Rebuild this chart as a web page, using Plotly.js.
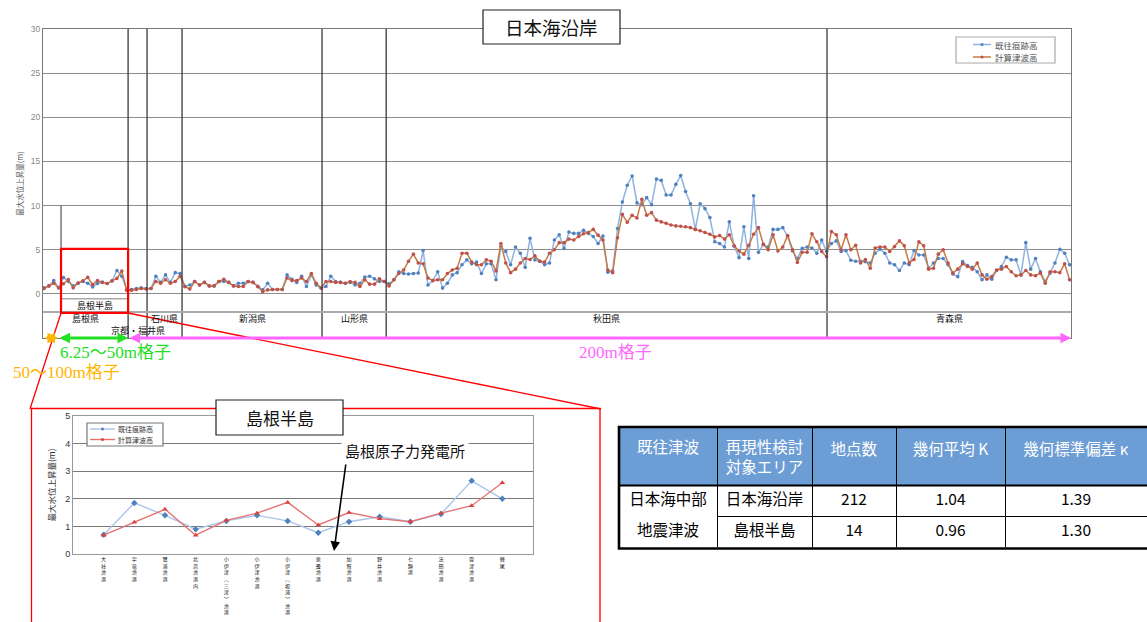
<!DOCTYPE html>
<html>
<head>
<meta charset="utf-8">
<script src="https://cdn.plot.ly/plotly-3.0.1.min.js"></script>
<style>html,body{margin:0;padding:0;background:#fff;}#chart{width:1147px;height:622px;}</style>
</head>
<body>
<div id="chart"></div>
<script>
// ---------------- DATA ----------------
// 日本海沿岸 (212 points): 既往痕跡高 (observed) and 計算津波高 (computed), metres
const obsCoast = [
  0.7, 0.9, 1.5,
  0.7, 1.85, 1.4, 0.9, 1.2, 1.4, 1.2, 0.77, 1.17, 1.35, 1.17, 1.45, 2.65, 2.0,
  0.5, 0.5, 0.6, 0.7, 0.6, 0.6,
  2.0, 1.3, 2.15, 1.3, 2.4, 2.3,
  0.85, 1.0, 1.4, 1.0, 1.3, 0.9, 0.9, 1.4,
  1.4, 1.3, 0.9, 1.2, 1.2, 1.4, 1.3, 0.85,
  0.45, 1.2, 0.5, 0.5, 0.5, 2.15, 1.65,
  1.3, 2.0, 0.83, 2.15, 1.0, 0.65, 0.83, 2.0,
  1.4, 1.3, 1.2, 1.3, 1.0, 1.2, 1.9, 2.0, 1.7, 1.4,
  1.4, 1.15, 1.6, 2.5, 2.3, 2.25, 2.3, 2.35, 4.9, 1.0,
  1.5, 2.5, 0.65, 1.2, 2.15, 2.4, 3.3, 3.85, 3.4, 3.6,
  2.3, 3.4, 3.4, 1.6, 5.4, 4.8, 3.3, 5.3, 4.6, 3.0,
  6.3, 3.85, 3.7, 3.3, 3.5,
  6.1, 6.7, 5.15, 7.0, 6.85, 6.85, 7.2, 6.85, 6.5, 5.7, 6.55,
  2.45, 2.6, 7.4, 10.4, 12.3, 13.35, 10.3, 10.1, 10.9, 10.1,
  13.0, 12.85, 11.2, 11.2, 12.4, 13.4, 11.6, 10.2, 7.3, 10.2,
  9.65, 8.65, 5.9, 5.7, 5.3, 8.15, 5.4, 4.1, 7.6, 4.0,
  11.1, 4.7, 5.6, 5.3, 7.3, 7.3, 7.5, 6.5, 4.85, 4.0, 5.15,
  5.3, 5.2, 4.6, 6.1, 4.8, 5.7, 6.0, 4.8, 4.9, 3.8,
  3.7, 3.7, 3.65, 3.5, 4.6, 5.05, 4.6, 3.5, 3.3, 2.65,
  3.5, 3.3, 4.9, 4.4, 4.4, 2.9, 3.5, 4.0, 4.0, 3.3,
  2.25, 1.95, 3.65, 3.2, 3.0, 2.5, 1.6, 2.15, 1.65, 2.65,
  3.1, 4.15, 3.85, 3.85, 2.15, 5.8, 2.8, 4.0, 2.5, 1.4,
  2.35, 3.5, 5.05, 4.6, 3.3
];
const calcCoast = [
  0.6, 0.9, 1.2,
  0.68, 1.15, 1.62, 0.68, 1.22, 1.48, 1.87, 1.05, 1.5, 1.28, 1.17, 1.48, 1.75, 2.58,
  0.4, 0.4, 0.5, 0.6, 0.55, 0.6,
  1.4, 1.2, 1.6, 1.2, 1.4, 2.0,
  0.8, 0.55, 1.4, 1.0, 1.3, 0.9, 0.9, 1.4,
  1.65, 1.3, 0.9, 0.83, 0.83, 1.4, 1.3, 0.8,
  0.25, 0.45, 0.5, 0.5, 0.5, 1.8, 1.5,
  1.5, 1.8, 1.4, 2.3, 1.2, 0.65, 1.4, 1.4,
  1.3, 1.3, 1.2, 1.4, 1.3, 0.83, 1.6, 1.1, 1.1, 1.7,
  1.4, 0.9, 1.6, 2.3, 2.7, 3.7, 4.5, 3.5, 3.4, 1.8,
  1.5, 1.6, 1.6, 2.3, 2.7, 2.9, 4.6, 4.6, 3.6, 3.3,
  3.3, 3.85, 3.7, 2.6, 5.7, 3.5, 2.4, 2.8, 3.5, 4.0,
  3.9, 4.3, 3.7, 3.6, 4.6,
  5.0, 5.8, 5.8, 6.2, 6.1, 6.5, 6.8, 6.95, 7.3, 6.65, 6.1,
  2.7, 2.4, 6.35, 9.0, 8.1, 8.9, 8.6, 10.7, 8.9, 9.2,
  8.35, 8.15, 8.0, 7.8, 7.7, 7.65, 7.6, 7.5, 7.3, 7.15,
  6.95, 6.75, 6.45, 6.6, 6.2, 6.7, 5.45, 4.85, 4.5, 5.5,
  6.75, 7.5, 5.6, 5.0, 6.7, 4.85, 5.3, 6.6, 5.0, 3.55, 4.7,
  4.7, 6.8, 5.9, 4.8, 4.2, 7.05, 6.7, 5.0, 6.7, 5.0,
  5.5, 3.5, 3.9, 2.9, 5.2, 5.3, 5.3, 4.8, 5.35, 6.0,
  5.45, 3.5, 3.9, 5.9, 5.45, 2.8, 2.9, 4.5, 5.0, 3.5,
  2.35, 2.8, 3.4, 3.1, 2.8, 3.5, 2.15, 1.65, 1.95, 2.7,
  2.8, 3.1, 2.5, 2.05, 2.15, 2.65, 2.15, 2.05, 2.35, 1.2,
  2.5, 2.5, 2.4, 3.4, 1.6
];
// prefecture regions along the coast (boundaries in point-index units)
const prefNames  = ['島根県', '京都・福井県', '石川県', '新潟県', '山形県', '秋田県', '青森県'];
const prefBounds = [-0.2, 17.3, 21.2, 28.4, 57.2, 70.4, 161.1, 211.3];
const peninsulaRange = [3.5, 17.3];

// 島根半島 (14 points)
const shimaneSites = ['大社漁港', '宇竜漁港', '鷺浦漁港', '北浜漁港内', '小伊津（三津）漁港', '小伊津漁港',
  '小伊津（坂浦）漁港', '恵曇漁港', '加賀漁港', '野井漁港', '七類港', '法田漁港', '雲津漁港', '軽尾'];
const obsShimane  = [0.7, 1.85, 1.4, 0.9, 1.2, 1.4, 1.2, 0.77, 1.17, 1.35, 1.17, 1.45, 2.65, 2.0];
const calcShimane = [0.68, 1.15, 1.62, 0.68, 1.22, 1.48, 1.87, 1.05, 1.5, 1.28, 1.17, 1.48, 1.75, 2.58];

// table
const tableHeader = ['既往津波', '再現性検討<br>対象エリア', '地点数', '幾何平均 K', '幾何標準偏差 κ'];
const tableTsunami = ['日本海中部', '地震津波'];
const tableArea    = ['日本海沿岸', '島根半島'];
const tableCount   = ['212', '14'];
const tableMeanK   = ['1.04', '0.96'];
const tableSdKappa = ['1.39', '1.30'];

const seriesNames = ['既往痕跡高', '計算津波高'];

// ---------------- LAYOUT HELPERS ----------------
const W = 1147, H = 622;
const X = v => v / W;
const Y = v => 1 - v / H;
const JP = "'Noto Sans CJK JP', 'Noto Sans', sans-serif";
const SERIF = "'Liberation Serif', 'DejaVu Serif', 'Noto Sans CJK JP', serif";

const idx = obsCoast.map((_, i) => i);
const idxS = obsShimane.map((_, i) => i);
const vertLabels = shimaneSites.map(s => s.replace(/（/g, '︵').replace(/）/g, '︶').split('').join('<br>'));
const headerCells = tableHeader.map(h => [h.includes('<br>') ? h : '<br>' + h]);

const traces = [
  {type: 'scatter', mode: 'lines+markers', x: idx, y: obsCoast, name: seriesNames[0],
   line: {color: '#8fb3de', width: 1.5}, marker: {color: '#4f81bd', size: 3.6}, showlegend: false, xaxis: 'x', yaxis: 'y'},
  {type: 'scatter', mode: 'lines+markers', x: idx, y: calcCoast, name: seriesNames[1],
   line: {color: '#c47a45', width: 1.5}, marker: {color: '#c0504d', size: 3.6}, showlegend: false, xaxis: 'x', yaxis: 'y'},
  {type: 'scatter', mode: 'lines+markers', x: idxS, y: obsShimane, name: seriesNames[0],
   line: {color: '#a9c5e8', width: 1.4}, marker: {color: '#4f81bd', size: 5, symbol: 'diamond'}, showlegend: false, xaxis: 'x2', yaxis: 'y2'},
  {type: 'scatter', mode: 'lines+markers', x: idxS, y: calcShimane, name: seriesNames[1],
   line: {color: '#e57373', width: 1.4}, marker: {color: '#d9423f', size: 5, symbol: 'triangle-up'}, showlegend: false, xaxis: 'x2', yaxis: 'y2'},
  {type: 'table', domain: {x: [X(619), 1], y: [Y(548), Y(427)]},
   columnwidth: [98, 95, 84, 109, 142],
   header: {values: headerCells, align: 'center', height: 58,
            fill: {color: '#6d9dd5'}, line: {color: '#000', width: 1},
            font: {family: JP, size: 15.5, color: '#ffffff'}},
   cells: {values: [tableTsunami, tableArea, tableCount, tableMeanK, tableSdKappa], align: 'center', height: 31.5,
           fill: {color: '#ffffff'}, line: {color: ['#ffffff', '#000', '#000', '#000', '#000'], width: 1},
           font: {family: JP, size: 15.5, color: '#000'}}}
];

const shapes = [];
const annotations = [];
const P = (o) => Object.assign({xref: 'paper', yref: 'paper', showarrow: false, xanchor: 'center', yanchor: 'middle'}, o);

// prefecture boundary lines
prefBounds.slice(1, -1).forEach(b => {
  shapes.push({type: 'line', xref: 'x', yref: 'y', x0: b, x1: b, y0: -5, y1: 30, line: {color: '#3a3a3a', width: 1.3}});
});
shapes.push({type: 'line', xref: 'x', yref: 'y', x0: peninsulaRange[0], x1: peninsulaRange[0], y0: -2, y1: 10, line: {color: '#555', width: 1.2}});
shapes.push({type: 'line', xref: 'x', yref: 'y', x0: prefBounds[0], x1: prefBounds[prefBounds.length - 1], y0: -2.05, y1: -2.05, line: {color: '#aaaaaa', width: 2}});
shapes.push({type: 'line', xref: 'x', yref: 'y', x0: peninsulaRange[0], x1: peninsulaRange[1], y0: -0.55, y1: -0.55, line: {color: '#aaaaaa', width: 1.5}});
shapes.push({type: 'rect', xref: 'x', yref: 'y', x0: peninsulaRange[0], x1: peninsulaRange[1], y0: -2.15, y1: 5.1, line: {color: '#ff0000', width: 2.2}});
shapes.push({type: 'line', xref: 'paper', yref: 'paper', x0: X(61), y0: Y(313), x1: X(30), y1: Y(409), line: {color: '#ff0000', width: 1.3}});
shapes.push({type: 'line', xref: 'paper', yref: 'paper', x0: X(128), y0: Y(313), x1: X(601), y1: Y(409), line: {color: '#ff0000', width: 1.3}});
shapes.push({type: 'rect', xref: 'paper', yref: 'paper', x0: X(31.5), x1: X(600), y0: Y(640), y1: Y(408.5), line: {color: '#ff0000', width: 1.3}});
shapes.push({type: 'rect', xref: 'paper', yref: 'paper', x0: X(483), x1: X(620), y0: Y(44), y1: Y(10), fillcolor: '#fff', line: {color: '#222', width: 1.2}});
shapes.push({type: 'rect', xref: 'paper', yref: 'paper', x0: X(216), x1: X(343), y0: Y(435), y1: Y(400), fillcolor: '#fff', line: {color: '#222', width: 1.2}});
shapes.push({type: 'rect', xref: 'paper', yref: 'paper', x0: X(956), x1: X(1055), y0: Y(63), y1: Y(37), fillcolor: '#fff', line: {color: '#aaa', width: 1.2}});
shapes.push({type: 'line', xref: 'paper', yref: 'paper', x0: X(973), x1: X(991), y0: Y(44.5), y1: Y(44.5), line: {color: '#8fb3de', width: 1.5}});
shapes.push({type: 'line', xref: 'paper', yref: 'paper', x0: X(973), x1: X(991), y0: Y(57), y1: Y(57), line: {color: '#c47a45', width: 1.5}});
shapes.push({type: 'circle', xref: 'paper', yref: 'paper', x0: X(980.5), x1: X(983.5), y0: Y(46), y1: Y(43), fillcolor: '#4f81bd', line: {width: 0}});
shapes.push({type: 'circle', xref: 'paper', yref: 'paper', x0: X(980.5), x1: X(983.5), y0: Y(58.5), y1: Y(55.5), fillcolor: '#c0504d', line: {width: 0}});
shapes.push({type: 'rect', xref: 'paper', yref: 'paper', x0: X(87), x1: X(163), y0: Y(446), y1: Y(423), fillcolor: '#fff', line: {color: '#777', width: 1.2}});
shapes.push({type: 'line', xref: 'paper', yref: 'paper', x0: X(90), x1: X(115), y0: Y(429), y1: Y(429), line: {color: '#a9c5e8', width: 1.4}});
shapes.push({type: 'line', xref: 'paper', yref: 'paper', x0: X(90), x1: X(115), y0: Y(439.5), y1: Y(439.5), line: {color: '#e57373', width: 1.4}});
shapes.push({type: 'circle', xref: 'paper', yref: 'paper', x0: X(101), x1: X(104), y0: Y(430.5), y1: Y(427.5), fillcolor: '#4f81bd', line: {width: 0}});
shapes.push({type: 'circle', xref: 'paper', yref: 'paper', x0: X(101), x1: X(104), y0: Y(441), y1: Y(438), fillcolor: '#d9423f', line: {width: 0}});
shapes.push({type: 'line', xref: 'paper', yref: 'paper', x0: X(346), x1: X(443), y0: Y(463), y1: Y(463), line: {color: '#000', width: 1.6}});
shapes.push({type: 'rect', xref: 'paper', yref: 'paper', x0: X(619), x1: X(1170), y0: Y(548.5), y1: Y(427), line: {color: '#000', width: 2.6}});
shapes.push({type: 'line', xref: 'paper', yref: 'paper', x0: X(619), x1: X(1170), y0: Y(485.5), y1: Y(485.5), line: {color: '#000', width: 2.2}});

prefNames.forEach((n, k) => {
  const mid = (prefBounds[k] + prefBounds[k + 1]) / 2;
  const isKF = n === '京都・福井県';
  annotations.push({xref: 'x', yref: 'y', x: mid, y: isKF ? -4.1 : -2.75, text: n, showarrow: false,
    xanchor: 'center', yanchor: 'middle', font: {family: JP, size: 9, color: '#111'}});
});
annotations.push({xref: 'x', yref: 'y', x: (peninsulaRange[0] + peninsulaRange[1]) / 2, y: -1.3, text: '島根半島', showarrow: false,
  xanchor: 'center', yanchor: 'middle', font: {family: JP, size: 9, color: '#111'}});
annotations.push(P({x: X(551.5), y: Y(27), text: '日本海沿岸', font: {family: JP, size: 18.5, color: '#111'}}));
annotations.push(P({x: X(280), y: Y(417.5), text: '島根半島', font: {family: JP, size: 17, color: '#111'}}));
annotations.push(P({x: X(993), y: Y(44.5), xanchor: 'left', text: seriesNames[0], font: {family: JP, size: 8.5, color: '#555'}}));
annotations.push(P({x: X(993), y: Y(57), xanchor: 'left', text: seriesNames[1], font: {family: JP, size: 8.5, color: '#555'}}));
annotations.push(P({x: X(116), y: Y(429), xanchor: 'left', text: seriesNames[0], font: {family: JP, size: 7, color: '#333'}}));
annotations.push(P({x: X(116), y: Y(439.5), xanchor: 'left', text: seriesNames[1], font: {family: JP, size: 7, color: '#333'}}));
annotations.push({xref: 'paper', yref: 'paper', x: X(58), y: Y(338), ax: -15, ay: 0, text: '', showarrow: true, arrowside: 'end+start',
  arrowhead: 2, arrowsize: 0.7, arrowwidth: 3, arrowcolor: '#ffb400'});
annotations.push({xref: 'paper', yref: 'paper', x: X(128), y: Y(338), ax: -70, ay: 0, text: '', showarrow: true, arrowside: 'end+start',
  arrowhead: 2, arrowsize: 0.7, arrowwidth: 3, arrowcolor: '#22e022'});
annotations.push({xref: 'paper', yref: 'paper', x: X(1071), y: Y(338), ax: -943, ay: 0, text: '', showarrow: true, arrowside: 'end+start',
  arrowhead: 2, arrowsize: 0.7, arrowwidth: 3, arrowcolor: '#ff66ff'});
annotations.push(P({x: X(115), y: Y(352), text: '6.25～50m格子', font: {family: SERIF, size: 17, color: '#22dd22'}}));
annotations.push(P({x: X(66), y: Y(372), text: '50～100m格子', font: {family: SERIF, size: 17, color: '#ffb400'}}));
annotations.push(P({x: X(615), y: Y(352), text: '200m格子', font: {family: SERIF, size: 17, color: '#ff66ff'}}));
annotations.push(P({x: X(405), y: Y(450), text: '島根原子力発電所', bgcolor: '#fff', borderpad: 3, font: {family: JP, size: 15, color: '#111'}}));
annotations.push({xref: 'paper', yref: 'paper', x: X(334), y: Y(551), ax: 12, ay: -88, text: '', showarrow: true,
  arrowhead: 2, arrowsize: 1.2, arrowwidth: 1.6, arrowcolor: '#000'});

const layout = {
  width: W, height: H,
  margin: {l: 0, r: 0, t: 0, b: 0},
  paper_bgcolor: '#fff', plot_bgcolor: '#fff',
  showlegend: false,
  xaxis: {domain: [X(43), X(1071)], range: [-0.21, 211.3], showticklabels: false, showgrid: false, zeroline: false,
          showline: true, mirror: true, linecolor: '#777', linewidth: 1, ticks: '', automargin: false},
  yaxis: {domain: [Y(338), Y(29)], range: [-5, 30], tickvals: [0, 5, 10, 15, 20, 25, 30], showgrid: true,
          gridcolor: '#8c8c8c', gridwidth: 1, zeroline: false, showline: true, mirror: true, linecolor: '#777', ticks: '',
          tickfont: {family: 'Liberation Sans, sans-serif', size: 8.5, color: '#888'}, automargin: false,
          title: {text: '最大水位上昇量(m)', standoff: 6, font: {family: JP, size: 7.5, color: '#555'}}},
  xaxis2: {domain: [X(73), X(533)], anchor: 'y2', range: [-1, 14], tickvals: idxS, ticktext: vertLabels, tickangle: 0,
           showgrid: false, zeroline: false, showline: true, mirror: true, linecolor: '#999', ticks: '', automargin: false,
           tickfont: {family: JP, size: 5.1, color: '#111'}},
  yaxis2: {domain: [Y(554), Y(416)], anchor: 'x2', range: [0, 5], dtick: 1, showgrid: true, gridcolor: '#7a7a7a',
           zeroline: false, showline: true, mirror: true, linecolor: '#999', ticks: '', automargin: false,
           tickfont: {family: 'Liberation Sans, sans-serif', size: 9, color: '#333'},
           title: {text: '最大水位上昇量(m)', standoff: 8, font: {family: JP, size: 8.5, color: '#333'}}},
  shapes: shapes,
  annotations: annotations
};

Plotly.newPlot('chart', traces, layout, {displayModeBar: false, staticPlot: true});
</script>
</body>
</html>
